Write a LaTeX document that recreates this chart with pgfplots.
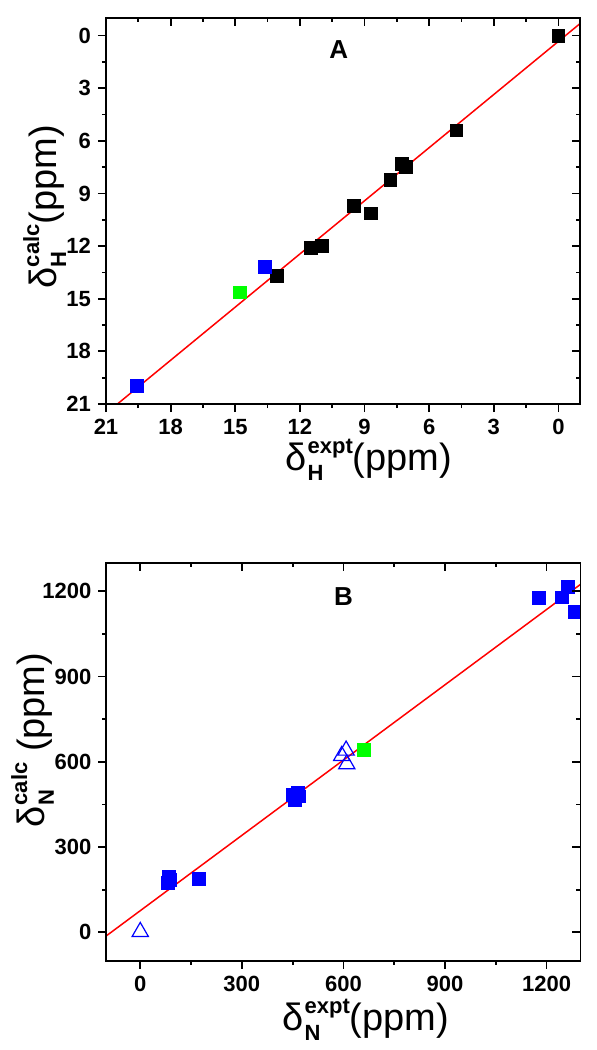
\documentclass[border=0pt]{standalone}
\usepackage{pgfplots}
\pgfplotsset{compat=1.18}
\usepackage{fontspec}
\setmainfont{Liberation Sans}
\newcommand{\lab}[3]{{\fontsize{19}{22}\selectfont δ\kern0.02em\raisebox{-5pt}{\rlap{\fontsize{11}{11}\selectfont\bfseries #1}}\raisebox{8.5pt}{\fontsize{11}{11}\selectfont\bfseries #2}#3}}
\pgfplotsset{
  panel/.style={scale only axis, width=237pt,
    /pgf/number format/assume math mode=true,
    /pgf/number format/1000 sep={},
    tick label style={font=\fontsize{11}{13}\selectfont\bfseries},
    axis line style={line width=0.9pt},
    tick style={line width=0.9pt, black},
    major tick length=4pt, minor tick length=2pt,
    minor x tick num=1, minor y tick num=1, clip=false},
  sq/.style={only marks, mark=square*, mark size=3.2pt},
}
\begin{document}
\begin{tikzpicture}
\path[use as bounding box] (0,0) rectangle (298pt,-525pt);
% ---------------- Panel A ----------------
\begin{axis}[panel, at={(171.5pt,-105.5pt)}, anchor=center, height=193pt,
  xmin=-1, xmax=21, ymin=-1, ymax=21, x dir=reverse, y dir=reverse,
  xtick={0,3,...,21}, ytick={0,3,...,21},
  tick align=outside, xtick pos=left, ytick pos=left]
\addplot[red, line width=0.75pt] coordinates {(-1,-0.68) (20.47,21)};
\addplot[sq, black] coordinates {(0,0) (4.74,5.40) (7.28,7.30) (7.07,7.49) (7.80,8.22) (9.50,9.70) (8.69,10.14) (11.48,12.08) (10.97,12.01) (13.08,13.69)};
\addplot[sq, blue] coordinates {(13.62,13.18) (19.55,19.98)};
\addplot[sq, green] coordinates {(14.79,14.64)};
\node[font=\fontsize{13}{13}\selectfont\bfseries] at (axis cs:10.2,0.8) {A};
\end{axis}
\begin{axis}[panel, at={(171.5pt,-105.5pt)}, anchor=center, height=193pt,
  xmin=-1, xmax=21, ymin=-1, ymax=21, x dir=reverse, y dir=reverse,
  xtick={0,3,...,21}, ytick={0,3,...,21}, xticklabels={}, yticklabels={},
  tick align=inside, xtick pos=right, ytick pos=right]
\end{axis}
% ---------------- Panel B ----------------
\begin{axis}[panel, at={(171.7pt,-380.9pt)}, anchor=center, height=199pt,
  xmin=-100, xmax=1300, ymin=-100, ymax=1300,
  xtick={0,300,...,1200}, ytick={0,300,...,1200},
  tick align=outside, xtick pos=left, ytick pos=left]
\addplot[red, line width=0.75pt] coordinates {(-100,-12) (1300,1224)};
\addplot[sq, blue] coordinates {(85,195) (82,175) (87,185) (173,188) (451,484) (465,490) (456,467) (470,478) (1178,1177) (1246,1178) (1264,1215) (1282,1126)};
\addplot[only marks, mark=triangle, mark size=4.7pt, blue, mark options={line width=0.6pt}] coordinates {(0,2) (595,621) (608,640) (610,592)};
\addplot[sq, green] coordinates {(661,641)};
\node[font=\fontsize{13}{13}\selectfont\bfseries] at (axis cs:600,1180) {B};
\end{axis}
\begin{axis}[panel, at={(171.7pt,-380.9pt)}, anchor=center, height=199pt,
  xmin=-100, xmax=1300, ymin=-100, ymax=1300,
  xtick={0,300,...,1200}, ytick={0,300,...,1200}, xticklabels={}, yticklabels={},
  tick align=inside, xtick pos=right, ytick pos=right]
\end{axis}
% ---------------- Labels ----------------
\node[anchor=base, rotate=90] at (28pt,-103.5pt) {\lab{H}{calc}{(ppm)}};
\node[anchor=base] at (184.5pt,-235pt) {\lab{H}{expt}{(ppm)}};
\node[anchor=base, rotate=90] at (22pt,-370pt) {\lab{N}{calc}{ (ppm)}};
\node[anchor=base] at (183pt,-515pt) {\lab{N}{expt}{(ppm)}};
\end{tikzpicture}
\end{document}
